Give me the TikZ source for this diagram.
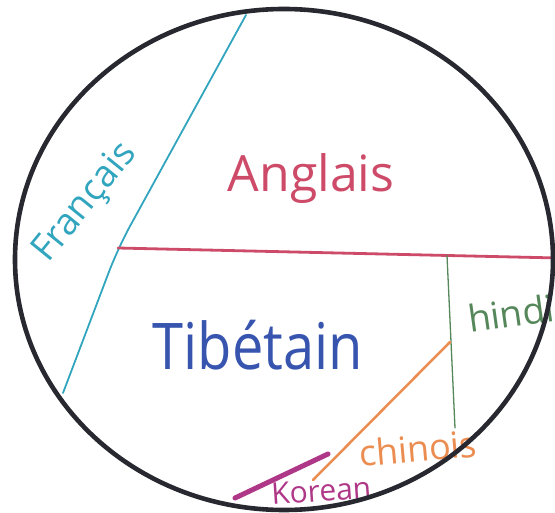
\documentclass[tikz,border=0pt]{standalone}
\usepackage{fontspec}
\setmainfont{Open Sans}
\definecolor{ringc}{RGB}{40,40,48}
\definecolor{frc}{RGB}{50,165,190}
\definecolor{enc}{RGB}{205,75,105}
\definecolor{tic}{RGB}{55,85,175}
\definecolor{hic}{RGB}{85,135,90}
\definecolor{chc}{RGB}{235,140,80}
\definecolor{koc}{RGB}{175,55,135}
\begin{document}
\begin{tikzpicture}[x=1pt,y=-1pt,
  ring/.style={draw=ringc,line width=4.6pt},
  lang/.style={inner sep=0pt,outer sep=0pt},
  border/.style={line cap=round,line join=round}]
\useasboundingbox (0,0) rectangle (555,513);
\clip (0,0) rectangle (555,513);
% named points
\coordinate (ctr) at (284,259.5);
\coordinate (fTop) at (246,15);
\coordinate (fMid) at (118,248);
\coordinate (fBot) at (63,393);
\coordinate (eRight) at (558,258);
\coordinate (hTop) at (447,255.5);
\coordinate (hBot) at (455,428);
\coordinate (cTop) at (450,342);
\coordinate (cBot) at (313,480);
\coordinate (kL) at (235,498);
\coordinate (kR) at (328,454);
% borders
\draw[border,frc,line width=1.8pt,rounded corners=25pt] (fTop) -- (fMid) -- (fBot);
\draw[border,enc,line width=2.8pt] (fMid) -- (eRight);
\draw[border,hic,line width=1.3pt] (hTop) -- (hBot);
\draw[border,chc,line width=2.5pt] (cTop) -- (cBot);
\draw[border,koc,line width=5pt] (kL) -- (kR);
% labels
\node[lang,anchor=base west,rotate=51,text=frc,font=\fontsize{37}{37}\selectfont] (fr) at (48,264) {Français};
\node[lang,anchor=base,text=enc,font=\fontsize{50}{50}\selectfont] (en) at (311,192) {Anglais};
\node[lang,anchor=base,yscale=1.15,text=tic,font=\fontsize{56}{56}\selectfont] (ti) at (258,370) {Tibétain};
\node[lang,anchor=base west,rotate=8,text=hic,font=\fontsize{37}{37}\selectfont] (hi) at (470,333) {hindi};
\node[lang,anchor=base west,rotate=5,text=chc,font=\fontsize{36}{36}\selectfont] (ch) at (360,467) {chinois};
\node[lang,anchor=base west,rotate=4,text=koc,font=\fontsize{30}{30}\selectfont] (ko) at (272,505) {Korean};
% circle
\draw[ring] (ctr) ellipse [x radius=269, y radius=250.5];
\end{tikzpicture}
\end{document}
